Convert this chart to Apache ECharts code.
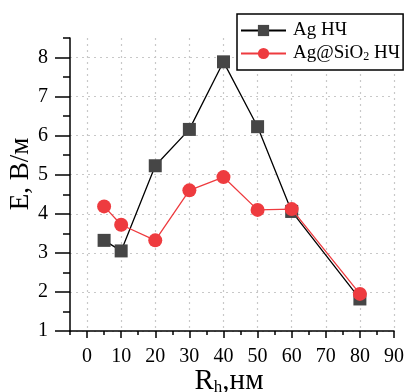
<!DOCTYPE html>
<html>
<head>
<meta charset="utf-8">
<script src="https://cdn.jsdelivr.net/npm/echarts@6/dist/echarts.min.js"></script>
<style>html,body{margin:0;padding:0;background:#fff}#c{width:407px;height:392px}</style>
</head>
<body>
<div id="c"></div>
<script>
const xValues = [5, 10, 20, 30, 40, 50, 60, 80];
const agValues = [3.32, 3.05, 5.23, 6.16, 7.89, 6.23, 4.06, 1.82];
const agSiO2Values = [4.19, 3.72, 3.32, 4.60, 4.94, 4.10, 4.12, 1.95];
const xTicks = [0, 10, 20, 30, 40, 50, 60, 70, 80, 90];
const yTicks = [1, 2, 3, 4, 5, 6, 7, 8];
const seriesNames = ['Ag НЧ', 'Ag@SiO2 НЧ'];

const FONT = "'Liberation Serif', 'Times New Roman', serif";
const chart = echarts.init(document.getElementById('c'), null, {renderer: 'canvas'});
const pair = (xs, ys) => xs.map((x, i) => [x, ys[i]]);

chart.setOption({
  animation: false,
  backgroundColor: '#fff',
  grid: {left: 70, right: 12, top: 38, bottom: 61, containLabel: false},
  legend: {
    orient: 'vertical',
    left: 237, top: 14,
    padding: [7, 3, 7, 3],
    itemGap: 4,
    itemWidth: 45, itemHeight: 14,
    borderColor: '#000', borderWidth: 1.5,
    backgroundColor: '#fff',
    data: seriesNames,
    textStyle: {
      fontFamily: FONT, fontSize: 19, color: '#000', lineHeight: 19, padding: [0, 0, 0, 2],
      rich: {
        a: {fontFamily: FONT, fontSize: 19, color: '#000'},
        s: {fontFamily: FONT, fontSize: 12, color: '#000', verticalAlign: 'bottom', padding: [8, 0, 0, 0]}
      }
    },
    formatter: function (name) {
      if (name === seriesNames[1]) return '{a|Ag@SiO}{s|2}{a| НЧ}';
      return '{a|' + name + '}';
    }
  },
  xAxis: [
    {
      type: 'value', min: -5, max: 90,
      axisLine: {show: true, onZero: false, lineStyle: {color: '#000', width: 1.5}},
      axisTick: {show: true, length: 7, customValues: xTicks, lineStyle: {color: '#000', width: 1.5}},
      axisLabel: {show: true, customValues: xTicks, margin: 16, fontFamily: FONT, fontSize: 20, color: '#000'},
      splitLine: {show: true, lineStyle: {color: '#c8c8c8', width: 1.2, type: [2, 4]}}
    },
    {
      type: 'value', min: -5, max: 90, interval: 5, position: 'bottom',
      axisLine: {show: false, onZero: false},
      axisTick: {show: true, length: 4, lineStyle: {color: '#000', width: 1.5}},
      axisLabel: {show: false},
      splitLine: {show: false}
    }
  ],
  yAxis: [
    {
      type: 'value', min: 1, max: 8.5,
      axisLine: {show: true, onZero: false, lineStyle: {color: '#000', width: 1.5}},
      axisTick: {show: true, length: 15, customValues: yTicks, lineStyle: {color: '#000', width: 1.5}},
      axisLabel: {show: true, customValues: yTicks, margin: 22, fontFamily: FONT, fontSize: 20, color: '#000'},
      splitLine: {show: true, lineStyle: {color: '#c8c8c8', width: 1.2, type: [2, 4]}}
    },
    {
      type: 'value', min: 1, max: 8.5, interval: 0.5, position: 'left',
      axisLine: {show: false, onZero: false},
      axisTick: {show: true, length: 7, lineStyle: {color: '#000', width: 1.5}},
      axisLabel: {show: false},
      splitLine: {show: false}
    }
  ],
  series: [
    {
      name: seriesNames[0], type: 'line', xAxisIndex: 0, yAxisIndex: 0,
      data: pair(xValues, agValues),
      symbol: 'rect', symbolSize: 13,
      itemStyle: {color: '#464646'},
      lineStyle: {color: '#000', width: 1.3},
      z: 2
    },
    {
      name: seriesNames[1], type: 'line', xAxisIndex: 0, yAxisIndex: 0,
      data: pair(xValues, agSiO2Values),
      symbol: 'circle', symbolSize: 14,
      itemStyle: {color: '#ee3b3f'},
      lineStyle: {color: '#ee3b3f', width: 1.3},
      z: 3
    }
  ],
  graphic: [
    {
      type: 'text', x: 21, y: 174, rotation: Math.PI / 2,
      style: {text: 'E, В/м', fontFamily: FONT, fontSize: 27, fill: '#000', align: 'center', verticalAlign: 'middle'}
    },
    {
      type: 'text', x: 229, y: 381,
      style: {
        text: '{r|R}{s|h}{r|,нм}', align: 'center', verticalAlign: 'middle',
        rich: {
          r: {fontFamily: FONT, fontSize: 29, fill: '#000'},
          s: {fontFamily: FONT, fontSize: 17, fill: '#000', verticalAlign: 'bottom', padding: [14, 0, 0, 0]}
        }
      }
    }
  ]
});
</script>
</body>
</html>
